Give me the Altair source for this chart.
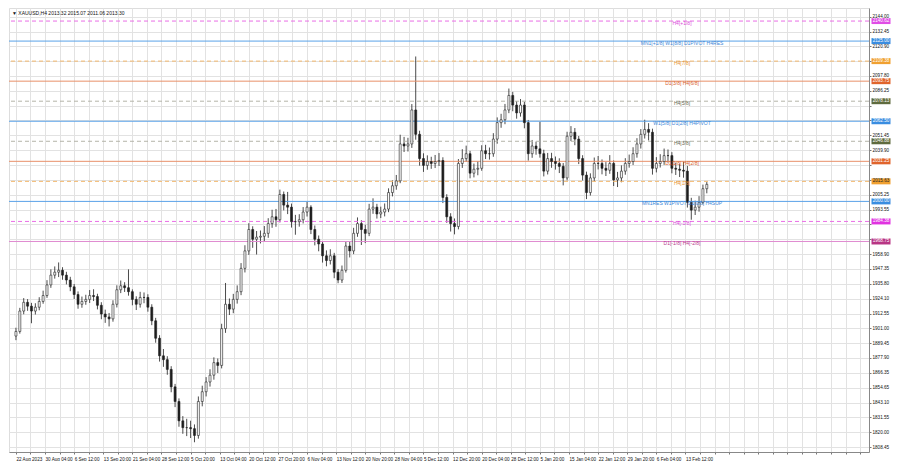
import altair as alt
import pandas as pd

# ---------------- data ----------------
first_open = 1895.0
closes = [
    1898.6, 1914.5, 1921.3, 1918.3, 1914.5, 1917.5, 1922.0, 1926.6, 1934.9, 1942.5,
    1944.8, 1946.3, 1942.5, 1938.7, 1933.4, 1927.4, 1919.8, 1922.0, 1923.6, 1926.6,
    1925.8, 1919.0, 1912.2, 1909.9, 1908.4, 1919.8, 1931.1, 1934.2, 1932.7, 1929.6,
    1923.6, 1919.8, 1925.1, 1925.1, 1917.5, 1906.9, 1893.3, 1879.6, 1876.6, 1869.0,
    1855.4, 1844.0, 1828.9, 1823.6, 1823.6, 1822.8, 1817.5, 1844.0, 1851.6, 1859.2,
    1864.5, 1874.3, 1872.1, 1900.8, 1919.8, 1916.0, 1923.6, 1929.6, 1947.8, 1961.4,
    1978.1, 1970.5, 1972.1, 1972.8, 1975.1, 1982.7, 1988.0, 1985.7, 2005.4, 1997.1,
    1995.5, 1984.2, 1984.2, 1985.7, 1991.7, 1995.5, 1978.1, 1970.5, 1966.8, 1957.6,
    1953.9, 1957.6, 1944.8, 1938.7, 1946.3, 1965.2, 1961.4, 1975.1, 1982.7, 1978.1,
    1975.1, 1994.0, 1995.5, 1990.2, 1991.7, 1994.0, 2006.9, 2012.2, 2016.0, 2044.8,
    2043.2, 2044.8, 2071.3, 2052.3, 2033.4, 2028.1, 2031.1, 2029.6, 2031.1, 2031.9,
    2003.1, 1988.0, 1982.7, 1980.4, 2029.6, 2033.4, 2037.2, 2022.0, 2025.1, 2025.8,
    2039.5, 2037.2, 2037.2, 2048.6, 2061.4, 2063.7, 2071.3, 2082.6, 2075.1, 2069.0,
    2075.1, 2061.4, 2037.2, 2043.2, 2041.0, 2037.2, 2023.6, 2033.4, 2031.1, 2029.6,
    2027.3, 2018.3, 2050.8, 2053.9, 2048.6, 2033.4, 2020.5, 2006.9, 2018.3, 2029.6,
    2029.6, 2025.8, 2024.3, 2029.6, 2016.8, 2018.3, 2023.6, 2029.6, 2031.1, 2037.2,
    2044.8, 2052.3, 2056.1, 2053.9, 2025.8, 2029.6, 2031.1, 2035.7, 2035.7, 2025.8,
    2025.1, 2024.3, 2023.6, 1999.3, 1993.2, 1995.5, 1999.3, 2009.9, 2013.3,
]
highs = [
    1901.5, 1917.0, 1924.6, 1923.8, 1920.9, 1920.6, 1925.3, 1930.4, 1938.6, 1947.0,
    1949.3, 1952.4, 1948.7, 1945.1, 1941.2, 1935.6, 1929.8, 1925.8, 1927.2, 1930.9,
    1931.5, 1928.0, 1921.4, 1915.6, 1913.0, 1922.9, 1934.6, 1938.3, 1937.0, 1947.0,
    1931.4, 1926.0, 1929.5, 1929.0, 1927.6, 1919.8, 1909.2, 1895.7, 1884.9, 1879.3,
    1871.5, 1857.7, 1846.4, 1832.6, 1830.5, 1829.0, 1826.1, 1847.9, 1856.3, 1863.0,
    1869.1, 1878.4, 1877.5, 1904.6, 1936.4, 1924.3, 1927.9, 1934.5, 1951.9, 1965.8,
    1983.0, 1980.6, 1976.9, 1977.3, 1980.8, 1986.9, 1993.5, 1994.1, 2009.2, 2007.7,
    2007.4, 1998.3, 1989.5, 1990.0, 1995.6, 1999.6, 1997.0, 1981.2, 1973.4, 1968.9,
    1961.8, 1962.7, 1959.9, 1947.2, 1950.0, 1968.4, 1969.0, 1979.4, 1987.5, 1985.3,
    1981.8, 1998.1, 2002.4, 1998.1, 1995.9, 1998.4, 2010.2, 2016.4, 2020.6, 2052.0,
    2050.3, 2049.6, 2075.9, 2113.0, 2055.1, 2037.5, 2035.9, 2034.8, 2036.2, 2037.7,
    2034.4, 2005.6, 1990.8, 1986.7, 2033.0, 2040.7, 2043.5, 2039.4, 2029.5, 2031.3,
    2043.8, 2044.1, 2042.0, 2053.2, 2065.5, 2068.3, 2076.0, 2088.0, 2085.4, 2078.2,
    2079.8, 2077.6, 2063.5, 2047.9, 2046.6, 2062.2, 2040.3, 2037.8, 2037.9, 2035.0,
    2033.6, 2029.9, 2054.3, 2058.7, 2057.2, 2051.0, 2036.0, 2023.2, 2021.9, 2034.2,
    2035.4, 2032.7, 2030.6, 2036.1, 2031.9, 2023.0, 2028.1, 2033.7, 2036.5, 2042.2,
    2049.3, 2056.4, 2063.7, 2061.0, 2056.7, 2034.5, 2036.8, 2041.2, 2040.5, 2038.4,
    2030.2, 2029.4, 2030.8, 2027.7, 2002.8, 2000.6, 2004.1, 2013.1, 2015.1,
]
lows = [
    1891.8, 1896.9, 1912.0, 1914.7, 1905.0, 1911.8, 1915.1, 1920.2, 1924.8, 1932.6,
    1939.8, 1941.0, 1938.9, 1935.3, 1930.0, 1923.9, 1916.3, 1917.1, 1919.4, 1920.8,
    1922.3, 1915.8, 1908.1, 1905.3, 1902.5, 1906.2, 1917.3, 1928.5, 1929.4, 1926.5,
    1919.0, 1915.3, 1917.2, 1920.6, 1914.0, 1903.5, 1889.8, 1875.1, 1871.0, 1864.8,
    1851.2, 1839.6, 1824.3, 1818.8, 1817.0, 1815.5, 1812.2, 1815.0, 1840.2, 1847.9,
    1855.6, 1861.0, 1866.2, 1869.8, 1897.5, 1911.4, 1912.8, 1920.3, 1926.9, 1944.6,
    1958.3, 1963.8, 1958.6, 1967.2, 1968.9, 1971.6, 1979.4, 1980.2, 1983.6, 1993.0,
    1990.1, 1979.6, 1974.0, 1980.3, 1982.8, 1988.2, 1974.5, 1965.7, 1961.1, 1952.3,
    1949.4, 1950.8, 1940.1, 1936.2, 1936.4, 1944.5, 1956.3, 1958.9, 1972.4, 1966.0,
    1967.5, 1972.9, 1990.3, 1986.6, 1987.0, 1988.3, 1991.6, 2003.9, 2009.1, 2014.2,
    2038.5, 2038.9, 2041.7, 2048.1, 2027.9, 2023.0, 2024.7, 2025.4, 2026.0, 2027.6,
    1998.7, 1983.3, 1976.5, 1974.3, 1978.2, 2026.1, 2030.8, 2018.0, 2018.7, 2020.4,
    2023.9, 2033.0, 2032.6, 2034.8, 2045.0, 2057.4, 2060.2, 2068.8, 2070.3, 2064.5,
    2066.1, 2057.0, 2031.8, 2034.0, 2036.4, 2034.1, 2019.5, 2021.0, 2026.2, 2024.8,
    2022.1, 2012.5, 2016.4, 2047.0, 2043.8, 2029.1, 2016.3, 2001.8, 2004.6, 2015.7,
    2024.9, 2021.1, 2019.8, 2021.5, 2012.0, 2011.2, 2014.9, 2020.8, 2026.3, 2028.4,
    2034.1, 2041.2, 2049.0, 2047.5, 2020.9, 2022.6, 2026.4, 2028.5, 2030.3, 2021.9,
    2020.6, 2019.0, 2018.5, 1995.2, 1985.7, 1989.4, 1992.0, 1997.6, 2006.3,
]

date_labels = [
    "22 Aug 2023", "30 Aug 04:00", "6 Sep 12:00", "13 Sep 20:00", "21 Sep 04:00",
    "28 Sep 12:00", "5 Oct 20:00", "13 Oct 04:00", "20 Oct 12:00", "27 Oct 20:00",
    "6 Nov 04:00", "13 Nov 12:00", "20 Nov 20:00", "28 Nov 04:00", "5 Dec 12:00",
    "12 Dec 20:00", "20 Dec 04:00", "28 Dec 12:00", "5 Jan 20:00", "15 Jan 04:00",
    "22 Jan 12:00", "29 Jan 20:00", "6 Feb 04:00", "13 Feb 12:00",
]

price_ticks = [
    2144.00, 2132.45, 2120.90, 2109.35, 2097.80, 2086.25, 2074.70, 2063.15, 2051.45,
    2039.90, 2028.35, 2016.80, 2005.25, 1993.55, 1982.00, 1970.45, 1958.90, 1947.35,
    1935.80, 1924.10, 1912.55, 1901.00, 1889.45, 1877.90, 1866.35, 1854.65, 1843.10,
    1831.55, 1820.00, 1808.45,
]
# price tick labels that are covered by the level boxes in the reference
hidden_ticks = [2109.35, 2074.70, 2063.15, 2028.35, 2016.80, 1982.00, 1970.45]

level_prices = [2140.62, 2125.00, 2109.38, 2093.75, 2078.13, 2062.50,
                2046.88, 2031.25, 2015.63, 2000.00, 1984.38, 1968.75]
level_names = ["H4[+1/8]", "MN1[+1/8] W1[8/8] D1PIVOT H4RES", "H4[7/8]",
               "D1[3/8] H4[6/8]", "H4[5/8]", "W1[5/8] D1[2/8] H4PIVOT", "H4[3/8]",
               "D1[1/8] H4[2/8]", "H4[1/8]", "MN1RES W1PIVOT D1[0/8] H4SUP",
               "H4[-1/8]", "D1[-1/8] H4[-2/8]"]
level_dashed = [True, False, True, False, True, False, True, False, True, False, True, False]
level_line_colors = ["#ea6ee6", "#5aa2e8", "#f2b66b", "#e8906a", "#b4b4a8", "#5aa2e8",
                     "#b4b4a8", "#e8906a", "#f2b66b", "#5aa2e8", "#ea6ee6", "#e08ad0"]
level_text_colors = ["#d94bd9", "#3d86d6", "#e8932f", "#d8622f", "#6a6a50", "#3d86d6",
                     "#6a6a50", "#d8622f", "#e8932f", "#3d86d6", "#d94bd9", "#b83d8e"]
level_box_colors = ["#e04de6", "#3a8de0", "#f0a030", "#e0642c", "#5f6b3e", "#3a8de0",
                    "#5f6b3e", "#e0642c", "#f0a030", "#3a8de0", "#e033e0", "#b83584"]
level_box_text = ["#ffffff", "#ffffff", "#ffffff", "#ffffff", "#ffffff", "#ffffff",
                  "#ffffff", "#ffffff", "#222222", "#ffffff", "#ffffff", "#ffffff"]

title_text = "\u25bc XAUUSD,H4  2013.32 2015.07 2011.06 2013.30"

# ---------------- tables ----------------
opens = [first_open] + closes[:-1]
candles = pd.DataFrame({
    "i": list(range(len(closes))),
    "open": opens, "high": highs, "low": lows, "close": closes,
})
candles["fill"] = ["#ffffff" if c >= o else "#1e1e1e" for o, c in zip(opens, closes)]

levels = pd.DataFrame({
    "price": level_prices, "name": level_names, "dashed": level_dashed,
    "lc": level_line_colors, "tc": level_text_colors,
    "bc": level_box_colors, "btc": level_box_text,
    "ptxt": [f"{p:.2f}" for p in level_prices],
})

W, H = 860, 444
FONT = "Liberation Sans"

labels_js = "[" + ",".join(f"'{s}'" for s in date_labels) + "]"
x_expr = (f"(round(datum.value/3.75) % 2 == 0) ? "
          f"({labels_js}[round(datum.value/3.75)/2] || '') : ''")
x_vals = [3.75 * k for k in range(59)]

hidden_js = "[" + ",".join(str(v) for v in hidden_ticks) + "]"
y_expr = f"indexof({hidden_js}, datum.value) >= 0 ? '' : format(datum.value, '.2f')"

xs = alt.Scale(domain=[-0.5, 218.5], nice=False, zero=False)
ys = alt.Scale(domain=[1804.6, 2150.8], nice=False, zero=False)

x_axis = alt.Axis(values=x_vals, labelExpr=x_expr, labelAlign="left", labelFontSize=4.6,
                  labelFont=FONT, labelColor="#111", labelPadding=2, tickSize=2,
                  tickColor="#777", domainColor="#888", grid=True, gridColor="#e2e2e2",
                  labelOverlap=False, labelFlush=False, labelBound=False, title=None)
y_axis = alt.Axis(values=price_ticks, labelExpr=y_expr, orient="right", labelFontSize=4.6,
                  labelFont=FONT, labelColor="#111", labelPadding=1, tickSize=2,
                  tickColor="#777", domainColor="#888", grid=True, gridColor="#e2e2e2",
                  labelOverlap=False, labelFlush=False, labelBound=False, title=None)

X = alt.X("i:Q", scale=xs, axis=x_axis)

lvl = alt.Chart(levels)
solid_lines = lvl.transform_filter("!datum.dashed").mark_rule(strokeWidth=1).encode(
    y=alt.Y("price:Q", scale=ys, axis=y_axis), color=alt.Color("lc:N", scale=None))
dashed_lines = lvl.transform_filter("datum.dashed").mark_rule(
    strokeWidth=1, strokeDash=[4, 3]).encode(
    y=alt.Y("price:Q", scale=ys, axis=y_axis), color=alt.Color("lc:N", scale=None))

wicks = alt.Chart(candles).mark_rule(color="#1e1e1e", strokeWidth=0.8).encode(
    x=X,
    y=alt.Y("low:Q", scale=ys, axis=y_axis),
    y2="high:Q",
)
bodies = alt.Chart(candles).mark_bar(size=2.0, stroke="#1e1e1e", strokeWidth=0.6).encode(
    x=X,
    y=alt.Y("open:Q", scale=ys, axis=y_axis),
    y2="close:Q",
    fill=alt.Fill("fill:N", scale=None),
)

lvl_text = lvl.mark_text(fontSize=5.0, font=FONT, align="center", baseline="middle", dy=2).encode(
    x=alt.value(673), y=alt.Y("price:Q", scale=ys, axis=y_axis), text="name:N",
    color=alt.Color("tc:N", scale=None))
boxes = lvl.mark_tick(orient="horizontal", size=19, thickness=6, opacity=1).encode(
    x=alt.value(W + 12), y=alt.Y("price:Q", scale=ys, axis=y_axis),
    color=alt.Color("bc:N", scale=None))
box_text = lvl.mark_text(fontSize=4.6, font=FONT, align="center", baseline="middle").encode(
    x=alt.value(W + 12), y=alt.Y("price:Q", scale=ys, axis=y_axis), text="ptxt:N",
    color=alt.Color("btc:N", scale=None))

title = alt.Chart(pd.DataFrame({"t": [title_text]})).mark_text(
    fontSize=5.0, font=FONT, align="left", baseline="middle", color="#111").encode(
    x=alt.value(3), y=alt.value(5), text="t:N")

chart = alt.layer(
    wicks, solid_lines, dashed_lines, bodies, lvl_text, boxes, box_text, title
).properties(width=W, height=H, padding=0).configure_view(
    stroke="#999", strokeWidth=1).configure(background="white")

chart.save("out.html", embed_options={"renderer": "svg", "actions": False})
